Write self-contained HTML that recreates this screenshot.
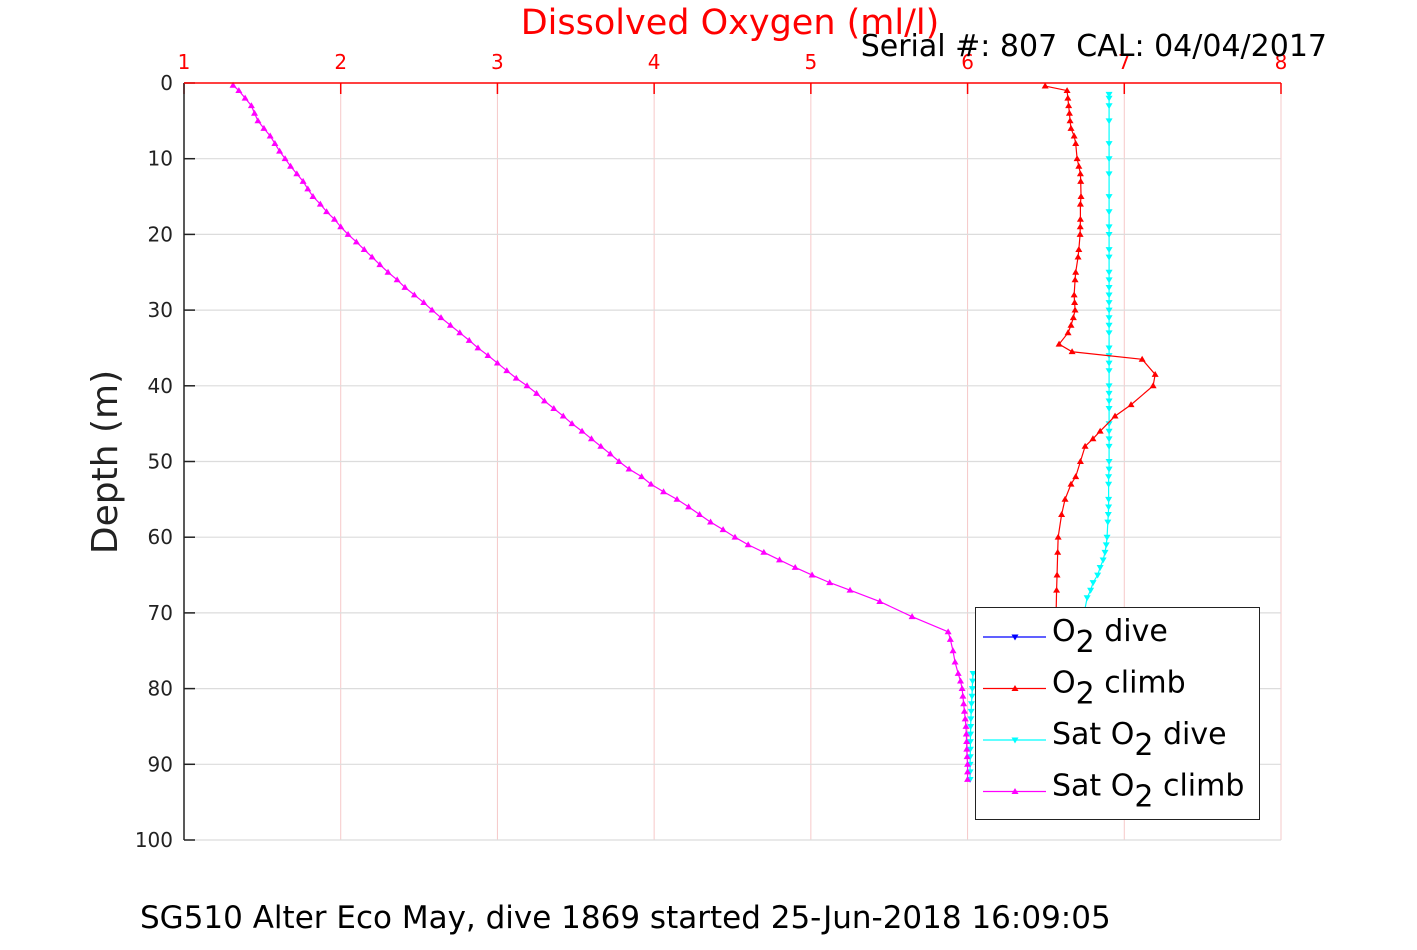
<!DOCTYPE html>
<html><head><meta charset="utf-8"><style>
body{margin:0;background:#fff;}
svg text{font-family:"DejaVu Sans","Liberation Sans",sans-serif;white-space:pre;}
</style></head><body>
<svg id="chart" width="1417" height="945" xmlns="http://www.w3.org/2000/svg">
<rect width="1417" height="945" fill="#fff"/>
<g id="grid"></g>
<g id="series"></g>
<g id="axes"></g>
<text x="730" y="34" font-size="35" fill="#ff0000" text-anchor="middle">Dissolved Oxygen (ml/l)</text>
<text x="1327" y="56" font-size="30" fill="#000" text-anchor="end" xml:space="preserve">Serial #: 807  CAL: 04/04/2017</text>
<text transform="translate(117,462) rotate(-90)" font-size="36" fill="#222" text-anchor="middle">Depth (m)</text>
<text x="140" y="928" font-size="31" fill="#000">SG510 Alter Eco May, dive 1869 started 25-Jun-2018 16:09:05</text>
<g>
<rect x="975.5" y="607.5" width="284" height="212" fill="#fff" stroke="#222" stroke-width="1"/>
<g id="legend-entries"></g>
</g>
</svg>
<script>
const xTicks=[1,2,3,4,5,6,7,8];
const yTicks=[0,10,20,30,40,50,60,70,80,90,100];
const o2DiveDepth=[];
const o2DiveVal=[];
const o2ClimbDepth=[0.4,1,2,3,4,5,6,7,8,10,11,12,13,15,16,18,19,20,22,23,25,26,28,29,30,31,32,33,34.5,35.5,36.5,38.5,40,42.5,44,46,47,48,50,52,53,55,57,60,62,65,67,70];
const o2ClimbVal=[6.495,6.635,6.64,6.645,6.65,6.654,6.66,6.68,6.69,6.699,6.71,6.72,6.722,6.724,6.72,6.72,6.719,6.718,6.71,6.705,6.69,6.686,6.68,6.683,6.686,6.675,6.66,6.641,6.584,6.667,7.114,7.197,7.184,7.043,6.941,6.846,6.8,6.75,6.72,6.69,6.66,6.622,6.6,6.578,6.575,6.571,6.568,6.565];
const satDiveDepth=[1.5,2,3,5,8,10,12,15,17,19,20,22,23,25,26,27,28,29,30,31,32,33,35,36,37,38,40,41,42,43,45,46,47,48,50,51,52,53,55,56,57,58,60,61,62,63,64,65,66,67,68,70,72,75,78,79,80,81,82,83,84,85,86,87,88,89,90,91,92];
const satDiveVal=[6.903,6.903,6.903,6.903,6.903,6.903,6.903,6.903,6.903,6.903,6.903,6.903,6.903,6.903,6.903,6.903,6.903,6.903,6.903,6.903,6.903,6.903,6.903,6.903,6.903,6.903,6.903,6.903,6.903,6.903,6.903,6.903,6.903,6.903,6.903,6.903,6.9,6.9,6.9,6.9,6.898,6.895,6.89,6.885,6.877,6.865,6.846,6.83,6.801,6.785,6.763,6.744,6.6,6.3,6.035,6.032,6.03,6.028,6.025,6.023,6.021,6.02,6.019,6.018,6.018,6.017,6.016,6.016,6.016];
const satClimbDepth=[0.3,1,2,3,4,5,6,7,8,9,10,11,12,13,14,15,16,17,18,19,20,21,22,23,24,25,26,27,28,29,30,31,32,33,34,35,36,37,38,39,40,41,42,43,44,45,46,47,48,49,50,51,52,53,54,55,56,57,58,59,60,61,62,63,64,65,66,67,68.5,70.5,72.5,73.5,75,76.5,78,79,80,81,82,83,84,85,86,87,88,89,90,91,92];
const satClimbVal=[1.313,1.35,1.39,1.43,1.45,1.472,1.51,1.55,1.58,1.61,1.645,1.68,1.72,1.76,1.79,1.823,1.87,1.91,1.96,2.0,2.047,2.1,2.15,2.2,2.25,2.302,2.36,2.41,2.47,2.53,2.583,2.64,2.7,2.76,2.82,2.876,2.94,3.0,3.06,3.12,3.189,3.25,3.3,3.36,3.42,3.476,3.54,3.6,3.66,3.72,3.776,3.84,3.92,3.98,4.06,4.146,4.22,4.29,4.36,4.44,4.516,4.6,4.7,4.8,4.9,5.008,5.12,5.25,5.44,5.646,5.876,5.89,5.907,5.92,5.94,5.955,5.965,5.97,5.975,5.98,5.985,5.99,5.992,5.994,5.995,5.997,6.0,6.0,6.0];
const X0=184,X1=1281,Y0=83,Y1=840;
const xs=v=>X0+(v-1)/7*(X1-X0);
const ys=d=>Y0+d/100*(Y1-Y0);
const NS="http://www.w3.org/2000/svg";
function mk(tag,attrs,parent){const e=document.createElementNS(NS,tag);for(const k in attrs)e.setAttribute(k,attrs[k]);parent.appendChild(e);return e;}
const grid=document.getElementById('grid'),axes=document.getElementById('axes'),series=document.getElementById('series');
xTicks.forEach(t=>{
 if(t>1){const l=mk('line',{x1:xs(t),x2:xs(t),y1:Y0,y2:Y1,stroke:'#f6c8c8','stroke-width':1},grid);
 
 }
 const tk=mk('line',{x1:xs(t),x2:xs(t),y1:Y0,y2:Y0+11,stroke:'#ff0000','stroke-width':1.5},axes);
 
 
 const tx=mk('text',{x:xs(t),y:69,'font-size':20,fill:'#ff0000','text-anchor':'middle'},axes);
 tx.textContent=t;
 
 
});
yTicks.forEach(t=>{
 if(t>0){const l=mk('line',{x1:X0,x2:X1,y1:ys(t),y2:ys(t),stroke:'#dcdcdc','stroke-width':1.2},grid);
 
 }
 const tk=mk('line',{x1:X0,x2:X0+11,y1:ys(t),y2:ys(t),stroke:'#222','stroke-width':1.5},axes);
 
 
 const tx=mk('text',{x:X0-11,y:ys(t)+7,'font-size':20,fill:'#222','text-anchor':'end'},axes);
 tx.textContent=t;
 
 
});
const la=mk('line',{x1:X0,x2:X0,y1:Y0,y2:Y1,stroke:'#222','stroke-width':1.5},axes);


const ta=mk('line',{x1:X0,x2:X1,y1:Y0,y2:Y0,stroke:'#ff0000','stroke-width':1.5},axes);


function tri(x,y,up,s){return up?`M${x},${y-s} L${x-s},${y+s*0.7} L${x+s},${y+s*0.7}Z`:`M${x},${y+s} L${x-s},${y-s*0.7} L${x+s},${y-s*0.7}Z`;}
function drawSeries(D,V,color,up,name){
 const g=mk('g',{},series);
 
 
 if(!D.length)return;
 const pts=D.map((d,i)=>xs(V[i])+','+ys(d)).join(' ');
 const pl=mk('polyline',{points:pts,fill:'none',stroke:color,'stroke-width':1.2},g);
 
 
 D.forEach((d,i)=>{const p=mk('path',{d:tri(xs(V[i]),ys(d),up,3.5),fill:color},g);
 
 });
}
drawSeries(o2DiveDepth,o2DiveVal,'#0000ff',false,'o2-dive');
drawSeries(satDiveDepth,satDiveVal,'#00ffff',false,'sat-o2-dive');
drawSeries(satClimbDepth,satClimbVal,'#ff00ff',true,'sat-o2-climb');
drawSeries(o2ClimbDepth,o2ClimbVal,'#ff0000',true,'o2-climb');
const leg=document.getElementById('legend-entries');
const legItems=[['O','2',' dive','#0000ff',false],['O','2',' climb','#ff0000',true],['Sat O','2',' dive','#00ffff',false],['Sat O','2',' climb','#ff00ff',true]];
legItems.forEach((it,i)=>{
 const y=637+i*51.5;
 const g=mk('g',{},leg);
 
 
 mk('line',{x1:983,x2:1046,y1:y,y2:y,stroke:it[3],'stroke-width':1.3},g);
 mk('path',{d:tri(1015,y,it[4],3.5),fill:it[3]},g);
 const t=mk('text',{x:1052,y:y+4,'font-size':30,fill:'#000'},g);
 t.innerHTML=it[0]+'<tspan dy="11">'+it[1]+'</tspan><tspan dy="-11">'+it[2]+'</tspan>';
});
</script>
</body></html>
